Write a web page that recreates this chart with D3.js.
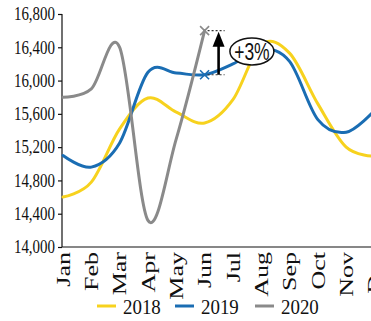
<!DOCTYPE html>
<html>
<head>
<meta charset="utf-8">
<script src="https://cdn.jsdelivr.net/npm/d3@7"></script>
<style>
  html, body { margin: 0; padding: 0; background: #fff; }
  svg { display: block; }
  text { font-family: "Liberation Serif", "Times New Roman", serif; fill: #111; }
</style>
</head>
<body>
<svg id="chart" width="371" height="321"></svg>
<script>
// Monthly values per year
const months = ["Jan","Feb","Mar","Apr","May","Jun","Jul","Aug","Sep","Oct","Nov","Dec"];
const values2018 = [14600, 14780, 15420, 15790, 15620, 15490, 15770, 16430, 16330, 15720, 15200, 15090];
const values2019 = [15100, 14960, 15250, 16100, 16090, 16070, 16200, 16380, 16230, 15530, 15380, 15640];
const values2020 = [15800, 15900, 16400, 14320, 15300, 16600];
const yTicks = [14000, 14400, 14800, 15200, 15600, 16000, 16400, 16800];
const seriesNames = ["2018", "2019", "2020"];
const seriesColors = ["#f7d21e", "#1a6db3", "#8a8a8a"];

const svg = d3.select("#chart");

const x = d3.scalePoint().domain(months).range([63, 374.5]);
const y = d3.scaleLinear().domain([14000, 16800]).range([247, 14]);

// Axes
const yAxis = svg.append("g").attr("transform", "translate(62,0)")
  .call(d3.axisLeft(y).tickValues(yTicks).tickSize(4).tickFormat(""));
yAxis.select(".domain").attr("stroke", "#111").attr("stroke-width", 1.2).attr("d", `M0,${y(16800)}V${y(14000)}`);
yAxis.selectAll(".tick line").attr("stroke", "#111").attr("stroke-width", 1.2);

svg.append("line")
  .attr("x1", 62).attr("x2", 371)
  .attr("y1", y(14000)).attr("y2", y(14000))
  .attr("stroke", "#111").attr("stroke-width", 1.2);

// Y tick labels (narrow serif)
svg.append("g").selectAll("text").data(yTicks).join("text")
  .attr("transform", d => `translate(55,${y(d)}) scale(0.83,1)`)
  .attr("text-anchor", "end")
  .attr("dy", "0.35em")
  .style("font-size", "18px")
  .text(d => d3.format(",")(d));

// Month labels, rotated
svg.append("g").selectAll("text").data(months).join("text")
  .attr("transform", d => `translate(${x(d)},252) scale(0.75,1) rotate(-90)`)
  .attr("text-anchor", "end")
  .attr("dy", "0.35em")
  .style("font-size", "26px")
  .text(d => d);

// Smoothed series lines
const line = d3.line()
  .x((d, i) => x(months[i]))
  .y(d => y(d))
  .curve(d3.curveCardinal.tension(0));

const plot = svg.append("g");
[values2018, values2019, values2020].forEach((vals, k) => {
  plot.append("path")
    .datum(vals)
    .attr("d", line)
    .attr("fill", "none")
    .attr("stroke", seriesColors[k])
    .attr("stroke-width", 3)
    .attr("stroke-linecap", "round");
});

// June comparison: 2020 vs 2019
const jun = "Jun";
const xi = months.indexOf(jun);
const vHigh = values2020[xi];
const vLow = values2019[xi];
const xj = x(jun);

function cross(cx, cy, color) {
  const s = 4.5;
  svg.append("path")
    .attr("d", `M${cx - s},${cy - s}L${cx + s},${cy + s}M${cx - s},${cy + s}L${cx + s},${cy - s}`)
    .attr("stroke", color).attr("stroke-width", 1.6).attr("fill", "none");
}
cross(xj, y(vHigh), seriesColors[2]);
cross(xj, y(vLow), seriesColors[1]);

[vHigh, vLow].forEach(v => {
  svg.append("line")
    .attr("x1", xj + 3).attr("x2", xj + 20)
    .attr("y1", y(v)).attr("y2", y(v))
    .attr("stroke", "#333").attr("stroke-width", 1.2)
    .attr("stroke-dasharray", "2,2");
});

const ax = xj + 14;
svg.append("line")
  .attr("x1", ax).attr("x2", ax)
  .attr("y1", y(vLow)).attr("y2", y(vHigh) + 12)
  .attr("stroke", "#000").attr("stroke-width", 2.6);
svg.append("path")
  .attr("d", `M${ax},${y(vHigh) + 1}L${ax - 6},${y(vHigh) + 16}L${ax + 6},${y(vHigh) + 16}Z`)
  .attr("fill", "#000");

// Percentage bubble
const pct = Math.round((vHigh / vLow - 1) * 100);
const bx = x("Jul") + 19, by = y(16350);
svg.append("ellipse")
  .attr("cx", bx).attr("cy", by).attr("rx", 22).attr("ry", 13.5)
  .attr("fill", "#fff").attr("stroke", "#111").attr("stroke-width", 1.5);
svg.append("text")
  .attr("transform", `translate(${bx},${by}) scale(0.76,1)`)
  .attr("text-anchor", "middle")
  .attr("dy", "0.36em")
  .style("font-family", "'Liberation Sans', Arial, sans-serif")
  .style("font-size", "23px")
  .text(`+${pct}%`);

// Legend
const legendX = [97, 175, 255];
const legend = svg.append("g");
seriesNames.forEach((name, k) => {
  legend.append("line")
    .attr("x1", legendX[k]).attr("x2", legendX[k] + 19)
    .attr("y1", 306).attr("y2", 306)
    .attr("stroke", seriesColors[k]).attr("stroke-width", 3);
  legend.append("text")
    .attr("transform", `translate(${legendX[k] + 26},306) scale(0.86,1)`)
    .attr("dy", "0.35em")
    .style("font-size", "22px")
    .text(name);
});
</script>
</body>
</html>
